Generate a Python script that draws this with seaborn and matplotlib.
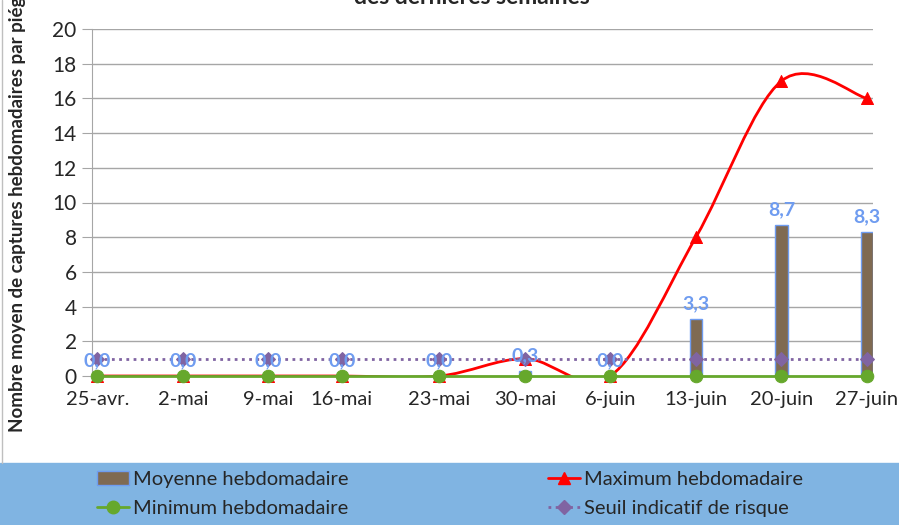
import matplotlib
matplotlib.use('Agg')
import numpy as np
import matplotlib.pyplot as plt
import seaborn as sns
from matplotlib.path import Path
from matplotlib.patches import PathPatch, Rectangle, Patch
from matplotlib.lines import Line2D

# --- Data ---
weeks = ['25-avr.', '2-mai', '9-mai', '16-mai', '23-mai', '30-mai',
         '6-juin', '13-juin', '20-juin', '27-juin']
day_pos = [0, 7, 14, 20, 28, 35, 42, 49, 56, 63]   # date axis (days since 25-avr.)
moyenne = [0, 0, 0, 0, 0, 0.3, 0, 3.3, 8.7, 8.3]
maximum = [0, 0, 0, 0, 0, 1, 0, 8, 17, 16]
minimum = [0, 0, 0, 0, 0, 0, 0, 0, 0, 0]
seuil = [1, 1, 1, 1, 1, 1, 1, 1, 1, 1]

# --- Style ---
sns.set_style('white')
plt.rcParams['font.family'] = ['Lato', 'DejaVu Sans']

BAR_FACE = '#7F6A52'
BAR_EDGE = '#6F9CF0'
LABEL_BLUE = '#6F9CF0'
RED = '#FF0000'
GREEN = '#66A82C'
PURPLE = '#8064A2'
GRID = '#A6A6A6'
BAND = '#80B4E2'


def smooth_path(x, y):
    """Excel-like smoothed line: cubic Bezier through every point."""
    pts = np.column_stack([x, y]).astype(float)
    n = len(pts)
    verts = [pts[0]]
    codes = [Path.MOVETO]
    for i in range(n - 1):
        p0 = pts[i - 1] if i > 0 else pts[i]
        p3 = pts[i + 2] if i + 2 < n else pts[i + 1]
        c1 = pts[i] + (pts[i + 1] - p0) / 6
        c2 = pts[i + 1] - (p3 - pts[i]) / 6
        verts += [c1, c2, pts[i + 1]]
        codes += [Path.CURVE4] * 3
    return Path(verts, codes)


fig = plt.figure(figsize=(8.99, 5.25), dpi=100)
ax = fig.add_axes([92 / 899, 1 - 376 / 525, (873 - 92) / 899, (376 - 29) / 525])

# legend band + chart border
fig.add_artist(Rectangle((0, 0), 1, 62 / 525, transform=fig.transFigure,
                         color=BAND, zorder=0))
fig.add_artist(Line2D([1.5 / 899, 1.5 / 899], [62 / 525, 1], transform=fig.transFigure,
                      color='#BFBFBF', lw=1))

# bars (mean)
sns.barplot(x=day_pos, y=moyenne, native_scale=True, width=1 / 6,
            color=BAR_FACE, edgecolor=BAR_EDGE, linewidth=1, saturation=1,
            ax=ax, zorder=2)
bar_labels = [f'{v:.1f}'.replace('.', ',') for v in moyenne]
ax.bar_label(ax.containers[0], labels=bar_labels, padding=5, color=LABEL_BLUE,
             fontweight='bold', fontsize=14, zorder=6)

# maximum: smoothed red line + triangles
ax.add_patch(PathPatch(smooth_path(day_pos, maximum), facecolor='none',
                       edgecolor=RED, lw=2, zorder=3))
sns.scatterplot(x=day_pos, y=maximum, marker='^', s=75, color=RED,
                edgecolor=RED, ax=ax, zorder=4, clip_on=False)

# minimum: green line + circles
sns.lineplot(x=day_pos, y=minimum, color=GREEN, lw=2, marker='o',
             markersize=9, markeredgecolor=GREEN, ax=ax, zorder=5, clip_on=False)

# seuil: purple dotted + diamonds
sns.lineplot(x=day_pos, y=seuil, color=PURPLE, lw=2, linestyle=(0, (1, 1.6)),
             marker='D', markersize=7, markeredgecolor=PURPLE, ax=ax, zorder=5,
             clip_on=False)

# axes
ax.set_xlim(-0.45, 63.5)
ax.set_ylim(0, 20)
ax.set_yticks(range(0, 21, 2))
ax.set_xticks(day_pos)
ax.set_xticklabels(weeks)
ax.yaxis.grid(True, color=GRID, lw=1)
ax.set_axisbelow(True)
for side in ['top', 'right']:
    ax.spines[side].set_visible(False)
ax.spines['left'].set_color(GRID)
ax.spines['bottom'].set_color(GRID)
ax.tick_params(axis='y', length=7, color=GRID, labelsize=15, pad=4, left=True)
ax.tick_params(axis='x', length=0, labelsize=14.5, pad=11)
ax.set_xlabel('')
ax.set_ylabel('')

fig.text(18 / 899, 1 - 432 / 525, 'Nombre moyen de captures hebdomadaires par piége',
         rotation=90, ha='center', va='bottom', fontsize=13.5, fontweight='bold')
fig.text(472 / 899, 1 - 4 / 525, 'des dernières semaines', ha='center',
         va='baseline', fontsize=16.5, fontweight='bold')

# legend
h_moy = Patch(facecolor=BAR_FACE, edgecolor=BAR_EDGE, lw=1)
h_max = Line2D([], [], color=RED, lw=2, marker='^', markersize=9)
h_min = Line2D([], [], color=GREEN, lw=2, marker='o', markersize=9)
h_seu = Line2D([], [], color=PURPLE, lw=2, linestyle=(0, (1, 1.6)), marker='D',
               markersize=7)
leg_kw = dict(frameon=False, fontsize=14.5, handlelength=1.6, handletextpad=0.2,
              labelspacing=0.6, borderpad=0, borderaxespad=0, loc='upper left')
fig.legend([h_moy, h_min], ['Moyenne hebdomadaire', 'Minimum hebdomadaire'],
           bbox_to_anchor=(97 / 899, 1 - 471 / 525), **leg_kw)
fig.legend([h_max, h_seu], ['Maximum hebdomadaire', 'Seuil indicatif de risque'],
           bbox_to_anchor=(548 / 899, 1 - 471 / 525), **leg_kw)

plt.savefig('out.png', dpi=100)
